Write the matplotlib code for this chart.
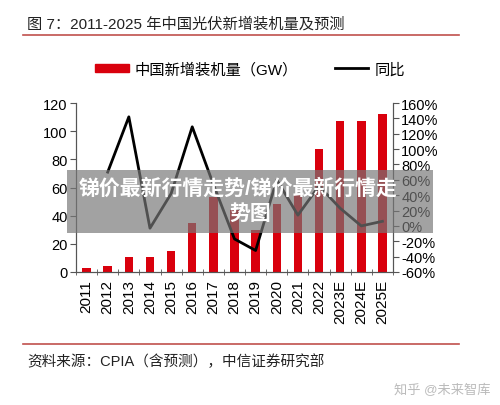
import matplotlib.pyplot as plt
from matplotlib.patches import Rectangle
from matplotlib.lines import Line2D
from matplotlib.ticker import FuncFormatter, FixedLocator

plt.rcParams["font.family"] = ["Liberation Sans", "Noto Sans CJK SC", "DejaVu Sans"]

# === Data ===
years = ["2011", "2012", "2013", "2014", "2015", "2016", "2017", "2018",
         "2019", "2020", "2021", "2022", "2023E", "2024E", "2025E"]
installed_gw = [2.7, 4.4, 10.9, 10.5, 15.0, 34.5, 53.0, 44.3,
                30.1, 48.2, 54.8, 87.4, 107.5, 107.0, 112.5]
# YoY growth (%), starts from 2012
yoy_years = years[1:]
yoy_pct = [70, 142, -3, 42, 129, 54, -17, -32, 60, 14, 52, 23, 0, 6]

BAR_RED = "#d9000d"
RULE_RED = "#c0504d"

# === Figure ===
fig = plt.figure(figsize=(5.0, 4.06), dpi=100)
ax = fig.add_axes([0.152, 0.3276, 0.634, 0.4162])
ax2 = ax.twinx()

x = list(range(len(years)))
ax.bar(x, installed_gw, width=0.4, color=BAR_RED, zorder=2)
ax2.plot(list(range(1, len(years))), yoy_pct, color="black", lw=2, zorder=3)
ax.set_zorder(1)
ax2.set_zorder(2)

ax.set_xlim(-0.5, len(years) - 0.5)
ax.set_ylim(0, 120)
ax.set_yticks(range(0, 121, 20))
ax2.set_ylim(-60, 160)
ax2.set_yticks(range(-60, 161, 20))
ax2.yaxis.set_major_formatter(FuncFormatter(lambda v, p: f"{int(v)}%"))

ax.set_xticks(x)
ax.set_xticklabels(years, rotation=90, fontsize=11)
ax.xaxis.set_minor_locator(FixedLocator([i - 0.5 for i in range(len(years) + 1)]))
ax.tick_params(axis="x", which="major", length=0, pad=5)
ax.tick_params(axis="x", which="minor", length=5, direction="inout", color="#555555")
ax.tick_params(axis="y", length=4, direction="out", labelsize=10.5, color="#555555", pad=2)
ax2.tick_params(axis="y", length=4, direction="out", labelsize=10.5, color="#555555", pad=2)

for a in (ax, ax2):
    a.spines["top"].set_visible(False)
    for s in ("left", "right", "bottom"):
        a.spines[s].set_color("#555555")
        a.spines[s].set_linewidth(0.8)

# === Title and rules ===
fig.text(27 / 500, 1 - 24 / 406, "图 7：2011-2025 年中国光伏新增装机量及预测",
         fontsize=11, ha="left", va="center", color="#222222")
fig.add_artist(Line2D([23 / 500, 459 / 500], [1 - 35.7 / 406] * 2,
                      color=RULE_RED, lw=1.2))
fig.add_artist(Line2D([23 / 500, 459 / 500], [1 - 345 / 406] * 2,
                      color=RULE_RED, lw=1.2))
fig.text(27 / 500, 1 - 362 / 406, "资料来源：CPIA（含预测），中信证券研究部",
         fontsize=10.5, ha="left", va="center", color="#222222")

# === Legend ===
handles = [Rectangle((0, 0), 1, 1, color=BAR_RED),
           Line2D([0], [0], color="black", lw=2)]
fig.legend(handles, ["中国新增装机量（GW）", "同比"], loc="center",
           bbox_to_anchor=(0.5, 1 - 70 / 406), ncol=2, frameon=False,
           fontsize=11, handlelength=2.2, handleheight=0.5, columnspacing=2.4,
           handletextpad=0.4)

# === Overlay banner ===
fig.add_artist(Rectangle((67 / 500, 1 - 234 / 406), 366 / 500, 63 / 406,
                         transform=fig.transFigure, facecolor="#777777",
                         alpha=0.68, edgecolor="none", zorder=5))
fig.text(0.477, 1 - 189 / 406, "锑价最新行情走势/锑价最新行情走", fontsize=15,
         fontweight="bold", color="white", ha="left" if False else "center",
         va="center", zorder=6)
fig.text(0.5, 1 - 214 / 406, "势图", fontsize=15,
         fontweight="bold", color="white", ha="center", va="center", zorder=6)

# watermark
fig.text(490 / 500, 1 - 390 / 406, "知乎 @未来智库", fontsize=9.5,
         color="#bbbbbb", ha="right", va="center")

plt.savefig("out.png", dpi=100)
